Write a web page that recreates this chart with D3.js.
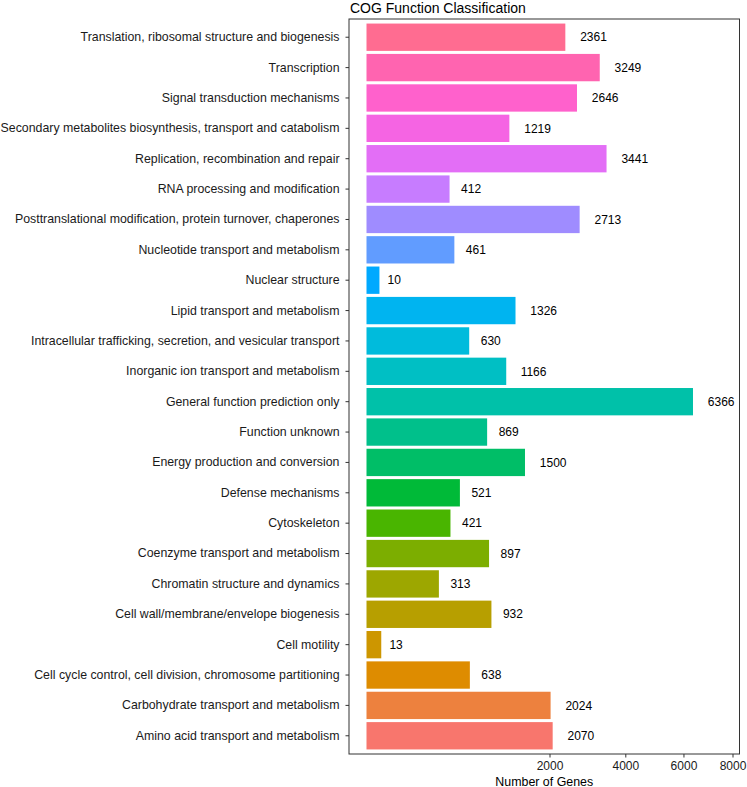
<!DOCTYPE html>
<html>
<head>
<meta charset="utf-8">
<script src="https://cdn.jsdelivr.net/npm/d3@7"></script>
<style>
  html, body { margin: 0; padding: 0; background: #fff; }
  svg { display: block; font-family: "Liberation Sans", Arial, sans-serif; }
</style>
</head>
<body>
<svg id="chart" width="747" height="787"></svg>
<script>
// Categories top -> bottom as shown
const categories = [
  "Translation, ribosomal structure and biogenesis",
  "Transcription",
  "Signal transduction mechanisms",
  "Secondary metabolites biosynthesis, transport and catabolism",
  "Replication, recombination and repair",
  "RNA processing and modification",
  "Posttranslational modification, protein turnover, chaperones",
  "Nucleotide transport and metabolism",
  "Nuclear structure",
  "Lipid transport and metabolism",
  "Intracellular trafficking, secretion, and vesicular transport",
  "Inorganic ion transport and metabolism",
  "General function prediction only",
  "Function unknown",
  "Energy production and conversion",
  "Defense mechanisms",
  "Cytoskeleton",
  "Coenzyme transport and metabolism",
  "Chromatin structure and dynamics",
  "Cell wall/membrane/envelope biogenesis",
  "Cell motility",
  "Cell cycle control, cell division, chromosome partitioning",
  "Carbohydrate transport and metabolism",
  "Amino acid transport and metabolism"
];
const geneCounts = [2361, 3249, 2646, 1219, 3441, 412, 2713, 461, 10, 1326, 630, 1166,
                    6366, 869, 1500, 521, 421, 897, 313, 932, 13, 638, 2024, 2070];
const xTicks = [2000, 4000, 6000, 8000];
const titleText = "COG Function Classification";
const xTitle = "Number of Genes";

// ggplot2-style hue palette (HCL in CIELUV, c=100, l=65)
function hclToHex(h, c, l) {
  const hr = h * Math.PI / 180;
  const U = c * Math.cos(hr), V = c * Math.sin(hr);
  const Xn = 95.047, Yn = 100, Zn = 108.883;
  const den = Xn + 15 * Yn + 3 * Zn;
  const un = 4 * Xn / den, vn = 9 * Yn / den;
  const Y = l > 7.999592 ? Yn * Math.pow((l + 16) / 116, 3) : Yn * l / 903.3;
  const u = U / (13 * l) + un, v = V / (13 * l) + vn;
  const X = 9 * Y * u / (4 * v);
  const Z = -X / 3 - 5 * Y + 3 * Y / v;
  const x = X / 100, y = Y / 100, z = Z / 100;
  const lin = [
    3.240479 * x - 1.537150 * y - 0.498535 * z,
    -0.969256 * x + 1.875992 * y + 0.041556 * z,
    0.055648 * x - 0.204043 * y + 1.057311 * z
  ];
  const ch = lin.map(t => {
    let s = t <= 0.0031308 ? 12.92 * t : 1.055 * Math.pow(t, 1 / 2.4) - 0.055;
    s = Math.max(0, Math.min(1, s));
    return Math.round(s * 255);
  });
  return d3.rgb(ch[0], ch[1], ch[2]).formatHex();
}
const n = categories.length;
// alphabetical order is bottom -> top; palette index 0 at the bottom
const palette = d3.range(n).map(i => hclToHex(15 + 360 * i / n, 100, 65));
const colorOf = i => palette[n - 1 - i];

const svg = d3.select("#chart");
const panel = { left: 349, right: 739.5, top: 19, bottom: 754 };

const x = d3.scaleSqrt().domain([0, 8000]).range([366.5, 732.5]);
const y = d3.scaleBand().domain(categories)
  .range([panel.top, panel.bottom])
  .paddingInner(0.1).paddingOuter(0.15);

// bars
svg.append("g").selectAll("rect")
  .data(categories)
  .join("rect")
  .attr("x", x(0))
  .attr("y", d => y(d))
  .attr("width", (d, i) => x(geneCounts[i]) - x(0))
  .attr("height", y.bandwidth())
  .attr("fill", (d, i) => colorOf(i));

// value labels
const labels = svg.append("g").selectAll("text")
  .data(categories)
  .join("text")
  .attr("y", d => y(d) + y.bandwidth() / 2)
  .attr("dy", "0.35em")
  .attr("font-size", 12)
  .attr("fill", "#000")
  .attr("text-anchor", "start")
  .text((d, i) => geneCounts[i]);
labels.each(function(d, i) {
  const w = this.getComputedTextLength();
  d3.select(this).attr("x", x(geneCounts[i]) + 0.5 * w + 1.5);
});

// panel border
svg.append("rect")
  .attr("x", panel.left).attr("y", panel.top)
  .attr("width", panel.right - panel.left)
  .attr("height", panel.bottom - panel.top)
  .attr("fill", "none").attr("stroke", "#333").attr("stroke-width", 1);

// y axis
const yAxis = svg.append("g")
  .attr("transform", `translate(${panel.left},0)`)
  .call(d3.axisLeft(y).tickSize(3.5).tickPadding(6));
yAxis.select(".domain").remove();
yAxis.selectAll("line").attr("stroke", "#333");
yAxis.selectAll("text").attr("font-size", 12.35).attr("fill", "#1a1a1a")
  .attr("font-family", "Liberation Sans, Arial, sans-serif");

// x axis
const xAxis = svg.append("g")
  .attr("transform", `translate(0,${panel.bottom})`)
  .call(d3.axisBottom(x).tickValues(xTicks).tickFormat(d3.format("d")).tickSize(3.5).tickPadding(4.2));
xAxis.select(".domain").remove();
xAxis.selectAll("line").attr("stroke", "#333");
xAxis.selectAll("text").attr("font-size", 12).attr("fill", "#1a1a1a")
  .attr("font-family", "Liberation Sans, Arial, sans-serif");

// axis title
svg.append("text")
  .attr("x", (panel.left + panel.right) / 2)
  .attr("y", 785.5)
  .attr("text-anchor", "middle")
  .attr("font-size", 12.4)
  .attr("fill", "#000")
  .text(xTitle);

// title
svg.append("text")
  .attr("x", 350)
  .attr("y", 12.5)
  .attr("font-size", 14)
  .attr("fill", "#000")
  .text(titleText);
</script>
</body>
</html>
